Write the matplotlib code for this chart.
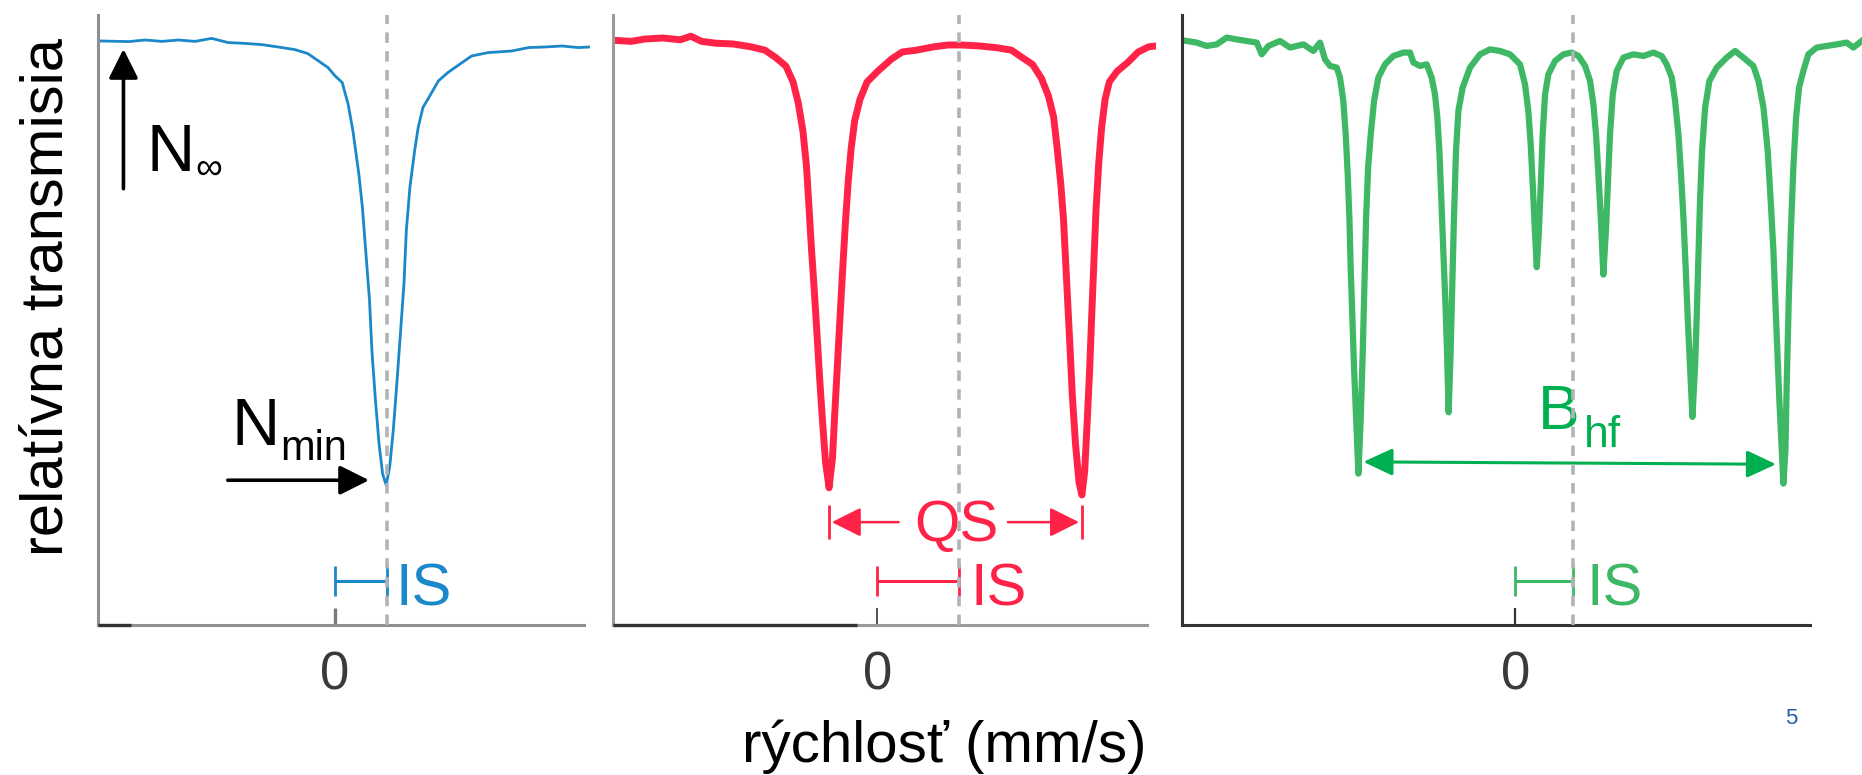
import matplotlib
matplotlib.use('Agg')
import matplotlib.pyplot as plt

plt.rcParams['font.family'] = ['Liberation Sans', 'DejaVu Sans']

# singlet spectrum (blue), velocity in mm/s, relative transmission in %
v_singlet = [-1.97, -1.74, -1.60, -1.46, -1.32, -1.18, -1.04, -0.90, -0.76, -0.62,
             -0.48, -0.34, -0.23, -0.14, -0.06, 0.00, 0.06, 0.11, 0.15, 0.20,
             0.23, 0.26, 0.29, 0.31, 0.34, 0.37, 0.40, 0.43, 0.46, 0.49,
             0.52, 0.55, 0.58, 0.60, 0.63, 0.67, 0.70, 0.74, 0.79, 0.87,
             0.95, 1.07, 1.15, 1.29, 1.49, 1.63, 1.77, 1.91, 2.05, 2.15]
t_singlet = [100.0, 99.97, 100.05, 99.98, 100.05, 99.98, 100.13, 99.92, 99.88, 99.82,
             99.70, 99.57, 99.37, 99.0, 98.67, 98.25, 97.92, 96.83, 95.5, 93.33,
             91.67, 89.33, 87.0, 84.5, 82.0, 79.83, 78.33, 77.75, 78.67, 80.5,
             82.83, 85.33, 87.83, 90.5, 92.67, 94.5, 95.67, 96.67, 97.17, 98.0,
             98.42, 98.92, 99.25, 99.42, 99.5, 99.67, 99.7, 99.75, 99.67, 99.7]

# quadrupole doublet (red)
v_doublet = [-2.207, -2.074, -1.955, -1.807, -1.659, -1.570, -1.481, -1.362, -1.214, -1.066,
             -0.947, -0.858, -0.770, -0.710, -0.666, -0.627, -0.597, -0.577, -0.556, -0.532,
             -0.508, -0.485, -0.461, -0.437, -0.407, -0.378, -0.360, -0.339, -0.318, -0.295,
             -0.271, -0.247, -0.221, -0.191, -0.147, -0.087, 0.002, 0.120, 0.209, 0.328,
             0.476, 0.595, 0.714, 0.862, 1.010, 1.129, 1.217, 1.306, 1.381, 1.440,
             1.484, 1.514, 1.544, 1.567, 1.585, 1.603, 1.621, 1.641, 1.668, 1.698,
             1.722, 1.745, 1.766, 1.787, 1.804, 1.822, 1.840, 1.864, 1.888, 1.917,
             1.953, 2.018, 2.107, 2.196, 2.285, 2.345]
t_doublet = [100.03, 99.98, 100.10, 100.15, 100.06, 100.24, 99.98, 99.89, 99.85, 99.71,
             99.54, 99.18, 98.74, 97.95, 96.89, 95.49, 93.73, 91.79, 89.68, 87.56,
             85.27, 82.99, 80.87, 78.94, 77.62, 79.11, 81.23, 83.51, 85.80, 88.27,
             90.73, 92.85, 94.61, 96.01, 97.07, 97.95, 98.48, 99.10, 99.45, 99.54,
             99.71, 99.80, 99.80, 99.75, 99.66, 99.54, 99.18, 98.83, 98.13, 97.25,
             96.19, 94.61, 92.85, 91.08, 88.97, 86.86, 84.75, 82.28, 79.82, 77.88,
             77.26, 78.41, 80.87, 83.51, 86.15, 88.80, 91.44, 93.90, 95.66, 97.07,
             97.95, 98.48, 98.92, 99.45, 99.71, 99.75]

# magnetic sextet (green)
v_sextet = [-2.766, -2.682, -2.597, -2.513, -2.429, -2.345, -2.261, -2.176, -2.134, -2.078,
            -1.980, -1.895, -1.783, -1.699, -1.643, -1.601, -1.559, -1.503, -1.475, -1.447,
            -1.427, -1.410, -1.396, -1.385, -1.371, -1.357, -1.340, -1.320, -1.300, -1.283,
            -1.269, -1.255, -1.238, -1.216, -1.188, -1.152, -1.096, -1.026, -0.941, -0.885,
            -0.857, -0.801, -0.745, -0.703, -0.675, -0.655, -0.638, -0.621, -0.605, -0.588,
            -0.574, -0.560, -0.543, -0.529, -0.515, -0.498, -0.478, -0.442, -0.380, -0.296,
            -0.212, -0.127, -0.043, 0.041, 0.083, 0.111, 0.131, 0.148, 0.165, 0.182,
            0.199, 0.216, 0.232, 0.252, 0.280, 0.336, 0.406, 0.476, 0.533, 0.589,
            0.631, 0.659, 0.681, 0.701, 0.721, 0.743, 0.766, 0.782, 0.799, 0.822,
            0.855, 0.912, 0.996, 1.080, 1.164, 1.234, 1.276, 1.319, 1.347, 1.375,
            1.397, 1.417, 1.436, 1.453, 1.473, 1.493, 1.515, 1.529, 1.543, 1.557,
            1.574, 1.600, 1.636, 1.698, 1.782, 1.852, 1.922, 2.006, 2.049, 2.091,
            2.127, 2.152, 2.175, 2.191, 2.208, 2.225, 2.245, 2.259, 2.276, 2.287,
            2.304, 2.321, 2.343, 2.366, 2.391, 2.427, 2.469, 2.539, 2.623, 2.708,
            2.792, 2.848, 2.918]
t_sextet = [100.0, 99.92, 99.75, 99.83, 100.17, 100.08, 100.0, 99.92, 99.33, 99.75,
            100.0, 99.67, 99.83, 99.5, 99.92, 99.08, 98.75, 98.67, 98.17, 97.0,
            95.33, 93.33, 91.17, 88.67, 86.17, 83.67, 81.17, 78.33, 81.17, 84.5,
            87.83, 91.17, 93.67, 95.33, 97.0, 98.17, 98.83, 99.25, 99.42, 99.42,
            98.92, 98.75, 98.83, 98.17, 97.33, 96.17, 94.5, 92.0, 89.5, 87.0,
            84.5, 81.4, 84.5, 87.83, 91.17, 94.5, 96.5, 97.67, 98.67, 99.33,
            99.58, 99.5, 99.33, 98.83, 97.83, 96.5, 94.83, 92.83, 90.67, 88.67,
            90.33, 92.83, 95.33, 97.33, 98.33, 99.0, 99.33, 99.42, 99.25, 98.75,
            98.0, 96.83, 95.33, 93.33, 91.17, 88.3, 90.67, 93.0, 95.33, 97.33,
            98.5, 99.17, 99.33, 99.25, 99.42, 99.25, 98.83, 98.17, 97.0, 95.33,
            93.33, 91.17, 88.67, 86.17, 83.67, 81.17, 83.67, 86.17, 89.0, 92.0,
            94.5, 96.67, 98.0, 98.67, 99.17, 99.5, 99.17, 98.75, 98.0, 96.67,
            94.5, 92.0, 89.5, 87.0, 84.5, 82.0, 79.5, 77.83, 79.5, 82.83,
            87.0, 90.33, 93.67, 96.17, 97.67, 98.5, 99.33, 99.67, 99.75, 99.83,
            99.92, 99.67, 100.0]

# isomer shift of each spectrum, QS line positions, B_hf arrow ends
is_shift = [0.435, 0.684, 0.485]
qs_lines = [-0.407, 1.721]
bhf_ends = [-1.278, 2.197]

blue = '#1a88c9'
red = '#ff2348'
green = '#3fb866'
dgreen = '#00b050'
dash_col = '#b0b4b8'
YLIM = (70.735, 101.3)

fig = plt.figure(figsize=(18.62, 7.75), dpi=100)
ax1 = fig.add_axes([0.05247, 0.1932, 0.26456, 0.7874])
ax2 = fig.add_axes([0.32948, 0.1932, 0.29162, 0.7874])
ax3 = fig.add_axes([0.63464, 0.1932, 0.36536, 0.7874])


def setup(ax, xlim, xend, spine_col, tick_col, tick_w):
    ax.set_xlim(xlim)
    ax.set_ylim(YLIM)
    ax.patch.set_visible(False)
    ax.spines[['top', 'right']].set_visible(False)
    ax.spines['bottom'].set_bounds(xlim[0], xend)
    for s in ('left', 'bottom'):
        ax.spines[s].set_color(spine_col)
        ax.spines[s].set_linewidth(2.2)
    ax.set_yticks([])
    ax.set_xticks([0])
    ax.set_xticklabels(['0'])
    ax.tick_params(axis='x', direction='in', length=12, width=tick_w, color=tick_col,
                   pad=18, labelsize=38, labelcolor='#3a3a3a')


setup(ax1, (-2.0, 2.15), 2.10, '#8f8f8f', '#7a7a7a', 2.4)
setup(ax2, (-2.222, 2.35), 2.274, '#9a9a9a', '#333333', 1.2)
setup(ax3, (-2.808, 2.921), 2.483, '#333333', '#333333', 1.6)

# darker pieces of the bottom axis lines
ax1.plot([-2.0, -1.72], [0, 0], color='#333333', lw=2.4, solid_capstyle='butt',
         transform=ax1.get_xaxis_transform(), clip_on=False, zorder=3)
ax2.plot([-2.222, -0.17], [0, 0], color='#333333', lw=2.4, solid_capstyle='butt',
         transform=ax2.get_xaxis_transform(), clip_on=False, zorder=3)

# spectra
ax1.plot(v_singlet, t_singlet, color=blue, lw=2.0, solid_joinstyle='round')
ax2.plot(v_doublet, t_doublet, color=red, lw=5.0, solid_joinstyle='round')
ax3.plot(v_sextet, t_sextet, color=green, lw=4.5, solid_joinstyle='round')

# dashed isomer shift lines
for ax, s in zip((ax1, ax2, ax3), is_shift):
    ax.axvline(s, color=dash_col, lw=2.6, ls=(0, (2.9, 2.3)), zorder=4)

# IS brackets and labels
is_cols = [blue, red, green]
is_off = [0.071, 0.096, 0.113]
for ax, s, c, o in zip((ax1, ax2, ax3), is_shift, is_cols, is_off):
    ax.plot([0, s], [72.96, 72.96], color=c, lw=2.2, solid_capstyle='butt')
    ax.plot([0, 0], [72.2, 73.7], color=c, lw=2.0, solid_capstyle='butt')
    ax.plot([s, s], [72.2, 73.8], color=c, lw=2.0, solid_capstyle='butt')
    ax.text(s + o, 71.75, 'IS', color=c, fontsize=43, ha='left', va='baseline')

arrow_k = dict(arrowstyle='-|>,head_length=0.9,head_width=0.45', mutation_scale=20,
               shrinkA=0, shrinkB=0)

# N_inf and N_min
ax1.annotate('', xy=(-1.783, 99.6), xytext=(-1.783, 92.6),
             arrowprops=dict(color='black', lw=2.6, **arrow_k))
ax1.text(-1.586, 93.5, 'N', fontsize=48, ha='left', va='baseline')
ax1.text(-1.18, 93.1, '\u221e', fontsize=27, ha='left', va='baseline')
ax1.annotate('', xy=(0.286, 78.0), xytext=(-0.904, 78.0),
             arrowprops=dict(color='black', lw=2.6, **arrow_k))
ax1.text(-0.870, 79.75, 'N', fontsize=48, ha='left', va='baseline')
ax1.text(-0.463, 79.0, 'min', fontsize=30, ha='left', va='baseline')

# QS
for q in qs_lines:
    ax2.plot([q, q], [75.05, 76.75], color=red, lw=2.0, solid_capstyle='butt')
ax2.annotate('', xy=(qs_lines[0] + 0.023, 75.9), xytext=(0.179, 75.9),
             arrowprops=dict(color=red, lw=1.8, **arrow_k))
ax2.annotate('', xy=(qs_lines[1] - 0.023, 75.9), xytext=(1.099, 75.9),
             arrowprops=dict(color=red, lw=1.8, **arrow_k))
ax2.text(0.669, 74.97, 'QS', color=red, fontsize=42, ha='center', va='baseline')

# B_hf
ax3.annotate('', xy=(bhf_ends[1], 78.8), xytext=(bhf_ends[0], 78.92),
             arrowprops=dict(arrowstyle='<|-|>,head_length=0.9,head_width=0.42',
                             mutation_scale=20, shrinkA=0, shrinkB=0,
                             color=dgreen, lw=2.2))
ax3.text(0.193, 80.58, 'B', color=dgreen, fontsize=45, ha='left', va='baseline')
ax3.text(0.58, 79.67, 'hf', color=dgreen, fontsize=32, ha='left', va='baseline')

fig.text(0.0255, 0.617, 'relatívna transmisia', rotation=90, fontsize=43,
         ha='center', va='center')
fig.text(0.507, 0.037, 'rýchlosť (mm/s)', fontsize=42, ha='center', va='center')
fig.text(0.962, 0.0735, '5', fontsize=16, color='#1f5fae', ha='center', va='center')

fig.savefig('out.png', dpi=100)
